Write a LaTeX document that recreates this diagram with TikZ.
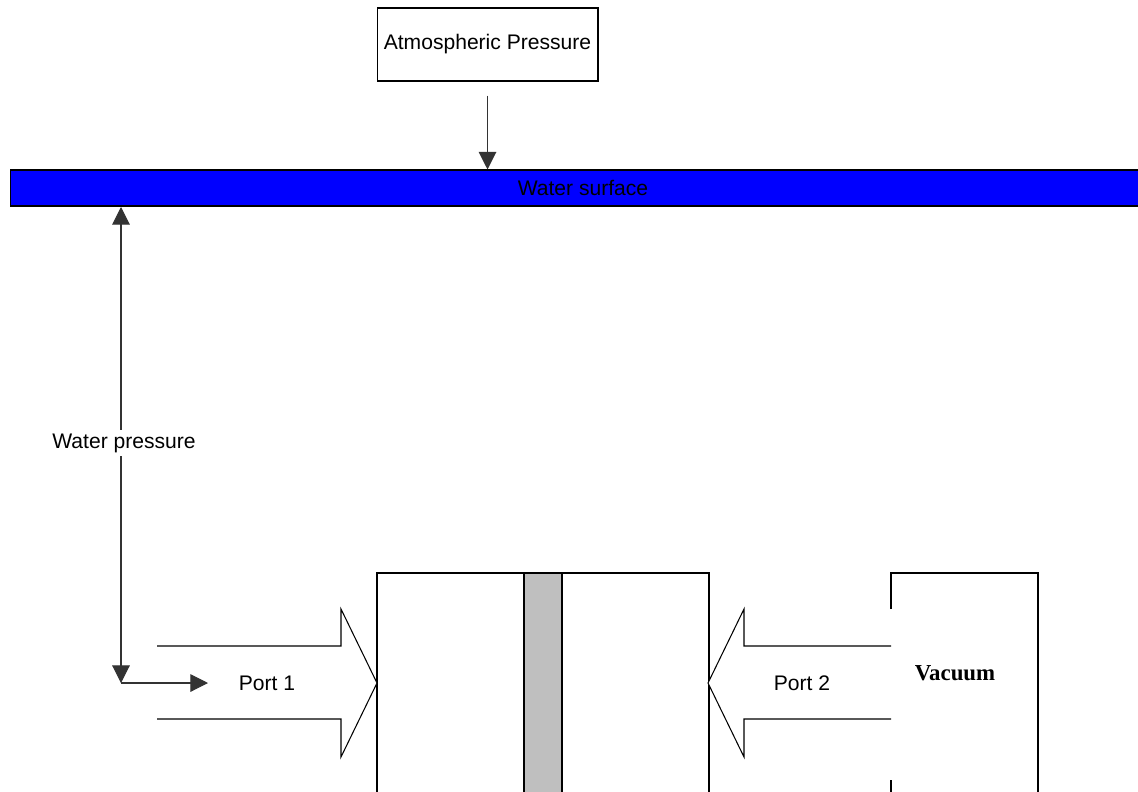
\documentclass[tikz,border=0pt]{standalone}
\usepackage{fontspec}
\setmainfont{Liberation Sans}
\newfontfamily\vacfont{Liberation Serif}
\usepackage{tikz}
\usetikzlibrary{arrows.meta}
\tikzstyle{graph}=[line width=0.6pt, font=\fontsize{12}{14}\selectfont]
\tikzstyle{box}=[rectangle, draw, fill=white, inner sep=0pt]
\tikzstyle{surf}=[rectangle, draw, fill=blue, inner sep=0pt, minimum width=22.7cm, minimum height=0.72cm]
\tikzstyle{lbl}=[inner sep=2pt, fill=white]
\tikzstyle{edge}=[-{Triangle[length=10pt,width=10pt]}, draw=black!80]
\tikzstyle{dedge}=[{Triangle[length=10pt,width=10pt]}-{Triangle[length=10pt,width=10pt]}, draw=black!80]
\tikzstyle{port}=[draw, fill=white, line join=miter]

\begin{document}
\begin{tikzpicture}[graph, x=0.02cm, y=-0.02cm]
	\useasboundingbox (0,0) rectangle (1138,791);
	\clip (0,0) rectangle (1138,791);
	% top part
	\draw (487.5,44.5) node[box, minimum width=4.42cm, minimum height=1.46cm] (atm) {Atmospheric Pressure};
	\draw (577.5,188) node[surf] (surface) {};
	\node at (583,188) (wslabel) {Water surface};
	\draw[edge] ([yshift=-0.28cm]atm.south) -- (atm.south |- surface.north);
	% cylinder and piston
	\draw (377,800) -- (377,573) -- (709,573) -- (709,800);
	\draw[fill=black!25] (524,800) -- (524,573) -- (562,573) -- (562,800);
	% ports
	\draw[port] (157,646) -- (341,646) -- (341,609) -- (377,683) -- (341,757) -- (341,719) -- (157,719);
	\draw (267,683) node (p1) {Port 1};
	\draw[port] (891,646) -- (744,646) -- (744,609) -- (708,683) -- (744,757) -- (744,719) -- (891,719);
	\draw (802,683) node (p2) {Port 2};
	% water pressure
	\coordinate (corner) at (121,683);
	\draw[dedge] (121,207) -- (corner);
	\draw (124,443) node[lbl] (wp) {Water pressure};
	\draw[edge] (corner) -- (208,683);
	% vacuum chamber
	\draw (891,609) -- (891,573) -- (1038,573) -- (1038,800);
	\draw (891,780) -- (891,800);
	\draw (955,673) node (vac) {\vacfont\fontsize{13}{15}\selectfont\bfseries Vacuum};
\end{tikzpicture}
\end{document}
